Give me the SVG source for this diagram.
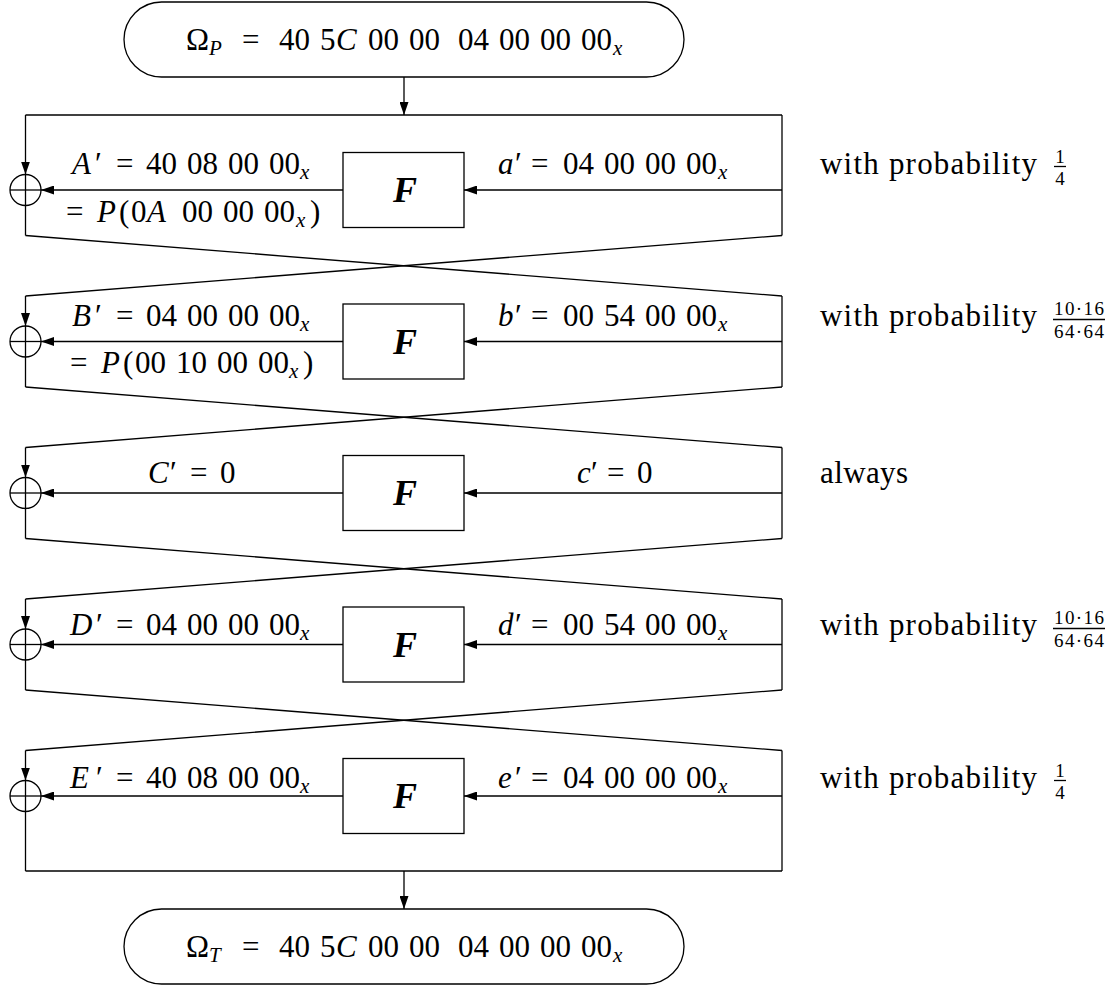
<svg xmlns="http://www.w3.org/2000/svg" width="1117" height="986" viewBox="0 0 1117 986">
<style>
.ln{stroke:#000;stroke-width:1.3;fill:none}
.bx{stroke:#000;stroke-width:1.3;fill:#fff}
.t{font-family:"Liberation Serif","Times New Roman",serif;font-size:31px;fill:#000}
.i{font-style:italic}
.s{font-size:21px}
.fr{font-family:"Liberation Serif","Times New Roman",serif;font-size:19px;fill:#000;text-anchor:middle}
.F{font-family:"Liberation Serif","Times New Roman",serif;font-size:36px;font-weight:bold;font-style:italic;text-anchor:middle}
</style>
<defs>
<marker id="ah" viewBox="0 0 13 9" refX="13" refY="4.5" markerWidth="13" markerHeight="9" markerUnits="userSpaceOnUse" orient="auto"><path d="M0,0 L13,4.5 L0,9 z" fill="#000"/></marker>
</defs>

<g id="connectors">
<line class="ln" x1="404" y1="77" x2="404" y2="115" marker-end="url(#ah)"/>
<line class="ln" x1="25.5" y1="115" x2="782" y2="115"/>
<!-- round 1 -->
<line class="ln" x1="25.5" y1="115" x2="25.5" y2="174.5" marker-end="url(#ah)"/>
<line class="ln" x1="25.5" y1="174.5" x2="25.5" y2="235.5"/>
<line class="ln" x1="782" y1="115" x2="782" y2="235.5"/>
<line class="ln" x1="782" y1="190" x2="464" y2="190" marker-end="url(#ah)"/>
<line class="ln" x1="343" y1="190" x2="41" y2="190" marker-end="url(#ah)"/>
<line class="ln" x1="25.5" y1="235.5" x2="782" y2="296"/>
<line class="ln" x1="782" y1="235.5" x2="25.5" y2="296"/>
<!-- round 2 -->
<line class="ln" x1="25.5" y1="296" x2="25.5" y2="326" marker-end="url(#ah)"/>
<line class="ln" x1="25.5" y1="326" x2="25.5" y2="387"/>
<line class="ln" x1="782" y1="296" x2="782" y2="387"/>
<line class="ln" x1="782" y1="341.5" x2="464" y2="341.5" marker-end="url(#ah)"/>
<line class="ln" x1="343" y1="341.5" x2="41" y2="341.5" marker-end="url(#ah)"/>
<line class="ln" x1="25.5" y1="387" x2="782" y2="447.5"/>
<line class="ln" x1="782" y1="387" x2="25.5" y2="447.5"/>
<!-- round 3 -->
<line class="ln" x1="25.5" y1="447.5" x2="25.5" y2="477.5" marker-end="url(#ah)"/>
<line class="ln" x1="25.5" y1="477.5" x2="25.5" y2="538.5"/>
<line class="ln" x1="782" y1="447.5" x2="782" y2="538.5"/>
<line class="ln" x1="782" y1="493" x2="464" y2="493" marker-end="url(#ah)"/>
<line class="ln" x1="343" y1="493" x2="41" y2="493" marker-end="url(#ah)"/>
<line class="ln" x1="25.5" y1="538.5" x2="782" y2="599"/>
<line class="ln" x1="782" y1="538.5" x2="25.5" y2="599"/>
<!-- round 4 -->
<line class="ln" x1="25.5" y1="599" x2="25.5" y2="629" marker-end="url(#ah)"/>
<line class="ln" x1="25.5" y1="629" x2="25.5" y2="690"/>
<line class="ln" x1="782" y1="599" x2="782" y2="690"/>
<line class="ln" x1="782" y1="644.5" x2="464" y2="644.5" marker-end="url(#ah)"/>
<line class="ln" x1="343" y1="644.5" x2="41" y2="644.5" marker-end="url(#ah)"/>
<line class="ln" x1="25.5" y1="690" x2="782" y2="750.5"/>
<line class="ln" x1="782" y1="690" x2="25.5" y2="750.5"/>
<!-- round 5 -->
<line class="ln" x1="25.5" y1="750.5" x2="25.5" y2="780.5" marker-end="url(#ah)"/>
<line class="ln" x1="25.5" y1="780.5" x2="25.5" y2="871"/>
<line class="ln" x1="782" y1="750.5" x2="782" y2="871"/>
<line class="ln" x1="782" y1="796" x2="464" y2="796" marker-end="url(#ah)"/>
<line class="ln" x1="343" y1="796" x2="41" y2="796" marker-end="url(#ah)"/>
<line class="ln" x1="25.5" y1="871" x2="782" y2="871"/>
<line class="ln" x1="404" y1="871" x2="404" y2="909" marker-end="url(#ah)"/>
</g>

<g id="start">
<rect class="bx" x="124" y="2" width="560" height="75" rx="37.5" ry="37.5"/>
<text class="t" y="50"><tspan x="186">Ω</tspan><tspan class="i s" x="209" dy="5">P</tspan><tspan x="242" dy="-5">=</tspan><tspan x="279">40</tspan><tspan x="320">5</tspan><tspan class="i" x="336">C</tspan><tspan x="368">00</tspan><tspan x="409">00</tspan><tspan x="458">04</tspan><tspan x="499">00</tspan><tspan x="540">00</tspan><tspan x="581">00</tspan><tspan class="i s" x="613" dy="5">x</tspan></text>
</g>

<g id="end">
<rect class="bx" x="124" y="909" width="560" height="75" rx="37.5" ry="37.5"/>
<text class="t" y="957"><tspan x="186">Ω</tspan><tspan class="i s" x="209" dy="5">T</tspan><tspan x="242" dy="-5">=</tspan><tspan x="279">40</tspan><tspan x="320">5</tspan><tspan class="i" x="336">C</tspan><tspan x="368">00</tspan><tspan x="409">00</tspan><tspan x="458">04</tspan><tspan x="499">00</tspan><tspan x="540">00</tspan><tspan x="581">00</tspan><tspan class="i s" x="613" dy="5">x</tspan></text>
</g>

<g id="xor1"><circle class="ln" cx="25.5" cy="190" r="15.5"/><line class="ln" x1="10" y1="190" x2="41" y2="190"/></g>
<g id="xor2"><circle class="ln" cx="25.5" cy="341.5" r="15.5"/><line class="ln" x1="10" y1="341.5" x2="41" y2="341.5"/></g>
<g id="xor3"><circle class="ln" cx="25.5" cy="493" r="15.5"/><line class="ln" x1="10" y1="493" x2="41" y2="493"/></g>
<g id="xor4"><circle class="ln" cx="25.5" cy="644.5" r="15.5"/><line class="ln" x1="10" y1="644.5" x2="41" y2="644.5"/></g>
<g id="xor5"><circle class="ln" cx="25.5" cy="796" r="15.5"/><line class="ln" x1="10" y1="796" x2="41" y2="796"/></g>

<g id="F1"><rect class="bx" x="343" y="152.5" width="121" height="75"/><text class="F" x="405" y="202">F</text></g>
<g id="F2"><rect class="bx" x="343" y="304" width="121" height="75"/><text class="F" x="405" y="353.5">F</text></g>
<g id="F3"><rect class="bx" x="343" y="455.5" width="121" height="75"/><text class="F" x="405" y="505">F</text></g>
<g id="F4"><rect class="bx" x="343" y="607" width="121" height="75"/><text class="F" x="405" y="656.5">F</text></g>
<g id="F5"><rect class="bx" x="343" y="758.5" width="121" height="75"/><text class="F" x="405" y="808">F</text></g>

<g id="labels">
<!-- round 1 -->
<text class="t" y="174"><tspan class="i" x="72">A</tspan><tspan x="95">′</tspan><tspan x="116">=</tspan><tspan x="146">40</tspan><tspan x="187">08</tspan><tspan x="228">00</tspan><tspan x="269">00</tspan><tspan class="i s" x="300" dy="5">x</tspan></text>
<text class="t" y="222"><tspan x="66">=</tspan><tspan class="i" x="97">P</tspan><tspan x="119">(</tspan><tspan x="131">0</tspan><tspan class="i" x="147">A</tspan><tspan x="182">00</tspan><tspan x="223">00</tspan><tspan x="264">00</tspan><tspan class="i s" x="296" dy="5">x</tspan><tspan x="310" dy="-5">)</tspan></text>
<text class="t" y="174"><tspan class="i" x="498">a</tspan><tspan x="515">′</tspan><tspan x="531">=</tspan><tspan x="563">04</tspan><tspan x="604">00</tspan><tspan x="645">00</tspan><tspan x="686">00</tspan><tspan class="i s" x="718" dy="5">x</tspan></text>
<text class="t" x="820" y="174" textLength="217" lengthAdjust="spacing">with probability</text>
<text class="fr" x="1060" y="163">1</text>
<line class="ln" x1="1054" y1="166.5" x2="1066" y2="166.5" stroke-width="1"/>
<text class="fr" x="1060" y="185">4</text>
<!-- round 2 -->
<text class="t" y="326"><tspan class="i" x="72">B</tspan><tspan x="95">′</tspan><tspan x="116">=</tspan><tspan x="146">04</tspan><tspan x="187">00</tspan><tspan x="228">00</tspan><tspan x="269">00</tspan><tspan class="i s" x="300" dy="5">x</tspan></text>
<text class="t" y="373"><tspan x="70">=</tspan><tspan class="i" x="101">P</tspan><tspan x="123">(</tspan><tspan x="135">00</tspan><tspan x="176">10</tspan><tspan x="217">00</tspan><tspan x="258">00</tspan><tspan class="i s" x="289" dy="5">x</tspan><tspan x="303" dy="-5">)</tspan></text>
<text class="t" y="326"><tspan class="i" x="498">b</tspan><tspan x="515">′</tspan><tspan x="531">=</tspan><tspan x="563">00</tspan><tspan x="604">54</tspan><tspan x="645">00</tspan><tspan x="686">00</tspan><tspan class="i s" x="718" dy="5">x</tspan></text>
<text class="t" x="820" y="326" textLength="217" lengthAdjust="spacing">with probability</text>
<text class="fr" x="1079" y="315" textLength="50" lengthAdjust="spacing">10·16</text>
<line class="ln" x1="1053" y1="319.5" x2="1105" y2="319.5" stroke-width="1"/>
<text class="fr" x="1079" y="338" textLength="50" lengthAdjust="spacing">64·64</text>
<!-- round 3 -->
<text class="t" y="483"><tspan class="i" x="148">C</tspan><tspan x="170">′</tspan><tspan x="190">=</tspan><tspan x="220">0</tspan></text>
<text class="t" y="483"><tspan class="i" x="577">c</tspan><tspan x="591">′</tspan><tspan x="607">=</tspan><tspan x="637">0</tspan></text>
<text class="t" x="820" y="483" textLength="88" lengthAdjust="spacing">always</text>
<!-- round 4 -->
<text class="t" y="635"><tspan class="i" x="70">D</tspan><tspan x="96">′</tspan><tspan x="116">=</tspan><tspan x="146">04</tspan><tspan x="187">00</tspan><tspan x="228">00</tspan><tspan x="269">00</tspan><tspan class="i s" x="300" dy="5">x</tspan></text>
<text class="t" y="635"><tspan class="i" x="498">d</tspan><tspan x="515">′</tspan><tspan x="531">=</tspan><tspan x="563">00</tspan><tspan x="604">54</tspan><tspan x="645">00</tspan><tspan x="686">00</tspan><tspan class="i s" x="718" dy="5">x</tspan></text>
<text class="t" x="820" y="635" textLength="217" lengthAdjust="spacing">with probability</text>
<text class="fr" x="1079" y="624" textLength="50" lengthAdjust="spacing">10·16</text>
<line class="ln" x1="1053" y1="628.5" x2="1105" y2="628.5" stroke-width="1"/>
<text class="fr" x="1079" y="647" textLength="50" lengthAdjust="spacing">64·64</text>
<!-- round 5 -->
<text class="t" y="788"><tspan class="i" x="70">E</tspan><tspan x="96">′</tspan><tspan x="116">=</tspan><tspan x="146">40</tspan><tspan x="187">08</tspan><tspan x="228">00</tspan><tspan x="269">00</tspan><tspan class="i s" x="300" dy="5">x</tspan></text>
<text class="t" y="788"><tspan class="i" x="498">e</tspan><tspan x="515">′</tspan><tspan x="531">=</tspan><tspan x="563">04</tspan><tspan x="604">00</tspan><tspan x="645">00</tspan><tspan x="686">00</tspan><tspan class="i s" x="718" dy="5">x</tspan></text>
<text class="t" x="820" y="788" textLength="217" lengthAdjust="spacing">with probability</text>
<text class="fr" x="1060" y="777">1</text>
<line class="ln" x1="1054" y1="780.5" x2="1066" y2="780.5" stroke-width="1"/>
<text class="fr" x="1060" y="799">4</text>
</g>
</svg>
